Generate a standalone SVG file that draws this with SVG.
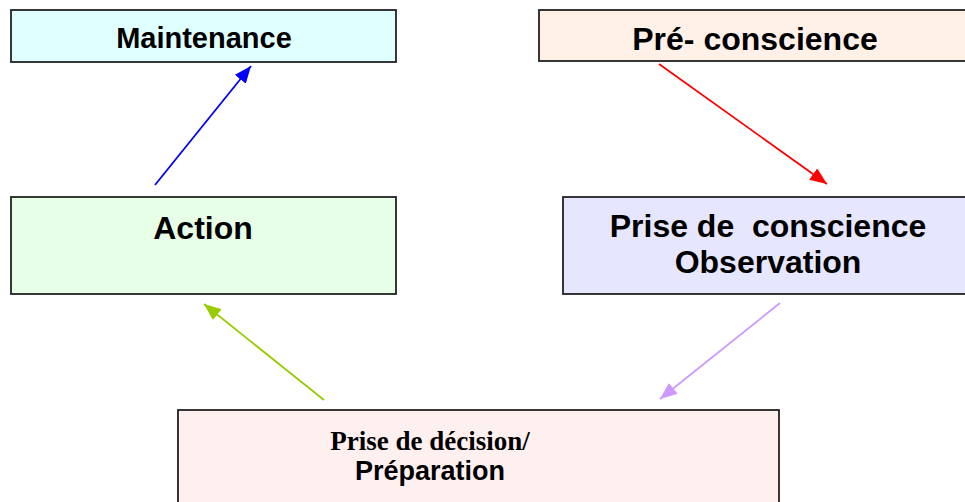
<svg xmlns="http://www.w3.org/2000/svg" width="965" height="502" viewBox="0 0 965 502">
  <style>
    .box { stroke: #222222; stroke-width: 1.8; }
    .lbl { font-family: "Liberation Sans", Arial, sans-serif; font-weight: bold; fill: #000; text-anchor: middle; }
    .serif { font-family: "Liberation Serif", "Times New Roman", serif; font-weight: bold; fill: #000; text-anchor: middle; }
    .conn { fill: none; stroke-width: 1.8; }
  </style>
  <defs>
    <marker id="head-blue" markerUnits="userSpaceOnUse" markerWidth="17" markerHeight="14" refX="17" refY="7" orient="auto">
      <path d="M0,0 L17,7 L0,14 z" fill="#0000ff"/>
    </marker>
    <marker id="head-red" markerUnits="userSpaceOnUse" markerWidth="17" markerHeight="14" refX="17" refY="7" orient="auto">
      <path d="M0,0 L17,7 L0,14 z" fill="#ff0000"/>
    </marker>
    <marker id="head-green" markerUnits="userSpaceOnUse" markerWidth="17" markerHeight="14" refX="17" refY="7" orient="auto">
      <path d="M0,0 L17,7 L0,14 z" fill="#99cc00"/>
    </marker>
    <marker id="head-purple" markerUnits="userSpaceOnUse" markerWidth="17" markerHeight="14" refX="17" refY="7" orient="auto">
      <path d="M0,0 L17,7 L0,14 z" fill="#cc99ff"/>
    </marker>
  </defs>

  <rect width="965" height="502" fill="#ffffff"/>

  <g id="maintenance">
    <rect class="box" x="11" y="10" width="385" height="52" fill="#e0ffff"/>
    <text class="lbl" x="204" y="48" font-size="29">Maintenance</text>
  </g>

  <g id="pre-conscience">
    <rect class="box" x="539" y="10" width="440" height="51" fill="#fff0e8"/>
    <text class="lbl" x="755" y="50" font-size="32">Pré- conscience</text>
  </g>

  <g id="action">
    <rect class="box" x="11" y="197" width="385" height="97" fill="#e6ffe6"/>
    <text class="lbl" x="203" y="239" font-size="32">Action</text>
  </g>

  <g id="prise-de-conscience">
    <rect class="box" x="563" y="197" width="420" height="97" fill="#e6e6ff"/>
    <text class="lbl" x="768" y="237" font-size="32" xml:space="preserve">Prise de  conscience</text>
    <text class="lbl" x="768" y="273" font-size="32">Observation</text>
  </g>

  <g id="prise-de-decision">
    <rect class="box" x="178" y="410" width="601" height="110" fill="#fff0f0"/>
    <text class="serif" x="430" y="450" font-size="27">Prise de décision/</text>
    <text class="lbl" x="430" y="480" font-size="27">Préparation</text>
  </g>

  <g id="connectors">
    <line class="conn" x1="155" y1="185" x2="251" y2="66" stroke="#0000ff" marker-end="url(#head-blue)"/>
    <line class="conn" x1="659" y1="64" x2="827" y2="184" stroke="#ff0000" marker-end="url(#head-red)"/>
    <line class="conn" x1="324" y1="400" x2="204" y2="304" stroke="#99cc00" marker-end="url(#head-green)"/>
    <line class="conn" x1="780" y1="303" x2="660" y2="399" stroke="#cc99ff" marker-end="url(#head-purple)"/>
  </g>
</svg>
